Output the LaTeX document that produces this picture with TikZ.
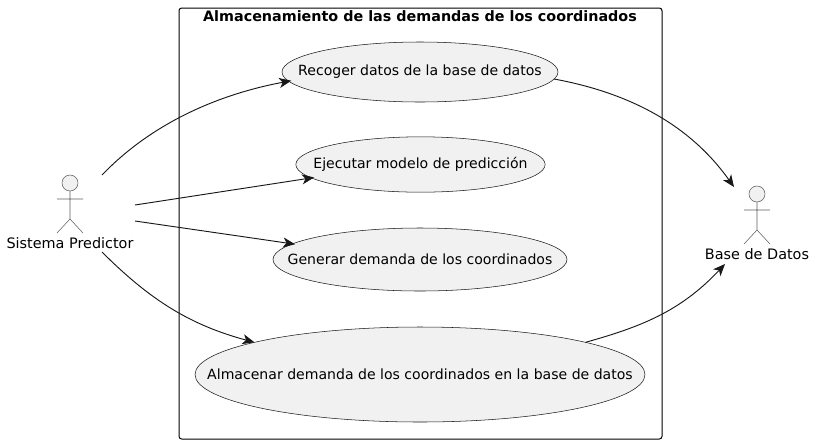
\documentclass[tikz,border=0pt]{standalone}
\usepackage{fontspec}
\setmainfont{DejaVu Sans}
\usetikzlibrary{arrows.meta,shapes.geometric}
\definecolor{lightfill}{HTML}{F1F1F1}
\definecolor{darkline}{HTML}{181818}
\tikzset{
  usecase/.style={ellipse,draw=darkline,line width=0.4pt,fill=lightfill,inner sep=0pt,outer sep=0pt,label={[usecasetext]center:#1}},
  usecasetext/.style={inner sep=0pt,font=\fontsize{10.55}{12}\selectfont},
  actorname/.style={inner sep=0pt,font=\fontsize{10.8}{12}\selectfont},
  link/.style={draw=darkline,line width=0.7pt,-{Stealth[length=9pt,width=7.5pt,inset=2.5pt]}},
  actor/.pic={
    \draw[draw=darkline!70,line width=0.4pt,fill=lightfill] (0,0) circle (8);
    \draw[draw=darkline!70,line width=0.4pt] (0,8) -- (0,36) (-13,16) -- (13,16) (-13,50) -- (0,36) -- (13,50);
  }
}
\begin{document}
\begin{tikzpicture}[x=0.75pt,y=-0.75pt]
\useasboundingbox (0,0) rectangle (814,444);

%Marking the frame
\draw[black,line width=0.75pt,rounded corners=2pt] (179,8) rectangle (662,439);
\node[inner sep=0pt,font=\fontsize{10.75}{12}\selectfont\bfseries] (frametitle) at (420,16) {Almacenamiento de las demandas de los coordinados};

%Drawing use cases
\node[usecase={Recoger datos de la base de datos},minimum width=207pt,minimum height=45pt] (recoger) at (420,72) {};
\node[usecase={Ejecutar modelo de predicción},minimum width=187pt,minimum height=41.5pt] (ejecutar) at (420.5,164.5) {};
\node[usecase={Generar demanda de los coordinados},minimum width=220.5pt,minimum height=47.25pt] (generar) at (420,259.5) {};
\node[usecase={Almacenar demanda de los coordinados en la base de datos},minimum width=337.5pt,minimum height=71.25pt] (almacenar) at (420,374.5) {};

%Drawing actors
\pic at (70,183) {actor};
\node[actorname] (sistema) at (70,243) {Sistema Predictor};
\pic at (757,194) {actor};
\node[actorname] (base) at (757,254) {Base de Datos};

%Marking free ends
\coordinate (s1) at (102,175);
\coordinate (s2) at (135,205);
\coordinate (s3) at (135,221);
\coordinate (s4) at (102,252);
\coordinate (b1) at (734,187);
\coordinate (b2) at (725,264);

%Drawing connectors
\draw[link,shorten >=-2pt] (s1) .. controls (150,125) and (215,95) .. (recoger.184.5);
\draw[link,shorten >=-2pt] (s2) -- (ejecutar.187);
\draw[link,shorten >=-2pt] (s3) -- (generar.173);
\draw[link] (s4) .. controls (150,300) and (190,325) .. (almacenar.169.8);
\draw[link] (recoger.-3.9) .. controls (630,93) and (690,125) .. (b1);
\draw[link] (almacenar.11.6) .. controls (640,327) and (680,312) .. (b2);
\end{tikzpicture}
\end{document}
